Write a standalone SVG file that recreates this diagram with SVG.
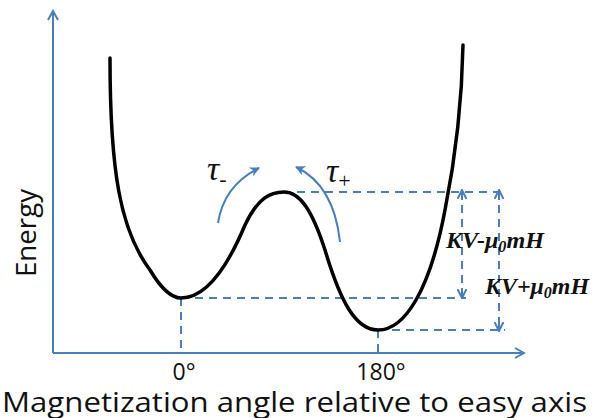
<svg xmlns="http://www.w3.org/2000/svg" width="609" height="418" viewBox="0 0 609 418">
<defs>
<marker id="open" markerWidth="12" markerHeight="12" refX="10" refY="6" orient="auto" markerUnits="userSpaceOnUse"><path d="M1,1 L10,6 L1,11" fill="none" stroke="#4a7ebb" stroke-width="2"/></marker>
<marker id="tri" markerWidth="12" markerHeight="12" refX="9" refY="6" orient="auto" markerUnits="userSpaceOnUse"><path d="M0,1 L10,6 L0,11 L3,6 Z" fill="#4a7ebb"/></marker>
<marker id="dtri" markerWidth="10" markerHeight="10" refX="8" refY="5" orient="auto" markerUnits="userSpaceOnUse"><path d="M0,0.5 L9,5 L0,9.5" fill="none" stroke="#4a7ebb" stroke-width="2"/></marker>
</defs>
<style>
.ax{stroke:#4a7ebb;stroke-width:2;fill:none}
.dash{stroke:#4a7ebb;stroke-width:2;fill:none;stroke-dasharray:8,6}
.lbl{font-family:"Open Sans","Noto Sans",sans-serif;fill:#111}
.math{font-family:"Liberation Serif",serif;font-style:italic;fill:#111}
</style>
<rect width="609" height="418" fill="#fff"/>
<g id="connectors">
<line class="ax" x1="53" y1="353" x2="53" y2="11" marker-end="url(#open)"/>
<line class="ax" x1="53" y1="353" x2="524" y2="353" marker-end="url(#open)"/>
<path class="dash" d="M181,298 V353 M181,298 H466"/>
<path class="dash" d="M283,192 H507"/>
<path class="dash" d="M378,330 V353 M378,330 H505"/>
<line class="dash" x1="462" y1="205" x2="462" y2="286"/>
<line class="ax" x1="462" y1="200" x2="462" y2="191" marker-end="url(#dtri)"/>
<line class="ax" x1="462" y1="288" x2="462" y2="297" marker-end="url(#dtri)"/>
<line class="dash" x1="499" y1="205" x2="499" y2="320"/>
<line class="ax" x1="499" y1="200" x2="499" y2="191" marker-end="url(#dtri)"/>
<line class="ax" x1="499" y1="320" x2="499" y2="330" marker-end="url(#dtri)"/>
<path class="ax" d="M218,223 Q224,185 259,168" marker-end="url(#tri)"/>
<path class="ax" d="M340,242 Q334,185 296,167" marker-end="url(#tri)"/>
</g>
<g id="curve">
<path d="M110,58 C110,170 120,230 150,270 C162,290 172,298 181,298 C200,298 222,280 245,225 C258,198 270,192 284,192 C300,192 312,210 325,250 C340,300 355,330 378,330 C405,330 430,290 445,210 C455,160 462,100 463,45" fill="none" stroke="#000" stroke-width="3.5" stroke-linecap="round"/>
</g>
<g id="labels">
<text class="lbl" font-size="28" transform="translate(36,233) rotate(-90)" text-anchor="middle" textLength="88" lengthAdjust="spacingAndGlyphs">Energy</text>
<text class="lbl" font-size="23" x="184" y="380" text-anchor="middle">0°</text>
<text class="lbl" font-size="23" x="381" y="380" text-anchor="middle">180°</text>
<text class="lbl" font-size="27" x="2" y="412" textLength="585" lengthAdjust="spacingAndGlyphs">Magnetization angle relative to easy axis</text>
<text class="math" font-size="34" x="207" y="180">τ<tspan font-size="22" dy="6" font-style="normal">-</tspan></text>
<text class="math" font-size="34" x="326" y="182">τ<tspan font-size="22" dy="6" font-style="normal">+</tspan></text>
<text class="math" font-size="24" font-weight="bold" x="446" y="248" textLength="98" lengthAdjust="spacingAndGlyphs">KV-μ<tspan font-size="16" dy="4">0</tspan><tspan dy="-4">mH</tspan></text>
<text class="math" font-size="24" font-weight="bold" x="485" y="294" textLength="104" lengthAdjust="spacingAndGlyphs">KV+μ<tspan font-size="16" dy="4">0</tspan><tspan dy="-4">mH</tspan></text>
</g>
</svg>
